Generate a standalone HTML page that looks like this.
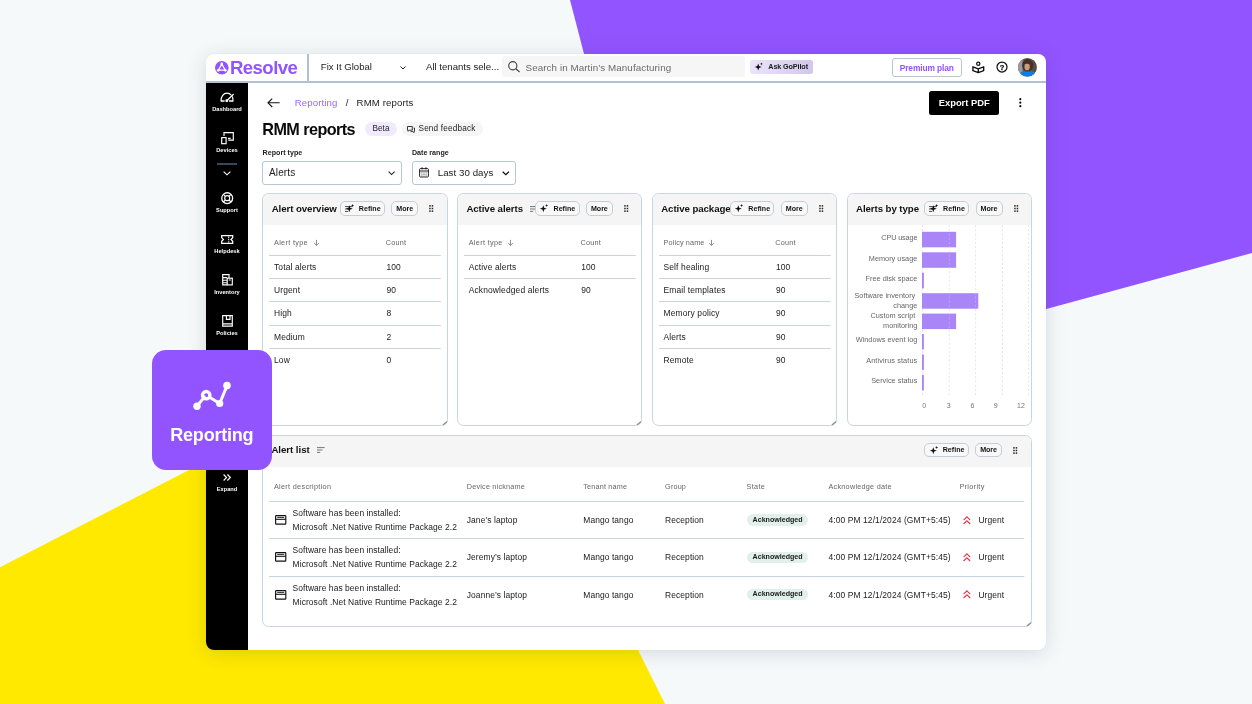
<!DOCTYPE html>
<html lang="en">
<head>
<meta charset="utf-8">
<title>RMM reports</title>
<style>
*{box-sizing:border-box;margin:0;padding:0}
html,body{width:1252px;height:704px;overflow:hidden}
body{position:relative;background:#f5f9fa;font-family:"Liberation Sans",Arial,sans-serif;color:#111;-webkit-font-smoothing:antialiased}
.abs{position:absolute}
.t{position:absolute;white-space:nowrap;line-height:1}
#bg{position:absolute;left:0;top:0;width:1252px;height:704px}
#app{will-change:transform;position:absolute;left:206px;top:54px;width:840px;height:596px;background:#fff;border-radius:8px;box-shadow:0 3px 20px rgba(40,50,70,.15),0 0 2px rgba(40,50,70,.05);overflow:hidden}
/* everything inside #app is positioned in page coords via this wrapper */
#in{position:absolute;left:-206px;top:-54px;width:1252px;height:704px}
#topline{left:206px;top:80.5px;width:840px;height:2px;background:#b3c1ce}
#vdiv{left:307px;top:54px;width:1.5px;height:28px;background:#b3c1ce}
#side{left:206px;top:82.5px;width:42px;height:568px;background:#000}
.sl{position:absolute;left:206px;width:42px;text-align:center;color:#fff;font-weight:bold;font-size:5.7px;line-height:1;margin-top:1.2px;white-space:nowrap}
.ico{position:absolute;overflow:visible}
.card{border:1px solid #c8d4df;border-radius:6.5px;background:#fff;overflow:hidden}
.chead{background:#f5f5f5;width:100%}
.grip{position:absolute;right:1px;bottom:1px;width:6px;height:6px;background:linear-gradient(135deg,transparent 52%,#8a8f96 52%,#8a8f96 64%,transparent 64%,transparent 76%,#8a8f96 76%,#8a8f96 88%,transparent 88%)}
.btn{border:1px solid #c3ced9;border-radius:5px;background:#f8f8f8}
.hl{height:1px;background:#c9d5df}

</style>
</head>
<body>
<svg id="bg" viewBox="0 0 1252 704">
  <polygon points="570,0 1252,0 1252,253 676.5,409.5" fill="#9254ff"/>
  <polygon points="0,567.3 474.4,323 665,704 0,704" fill="#ffe900"/>
</svg>

<div id="app"><div id="in">
  <!-- TOPBAR -->

  <!-- logo -->
  <svg class="ico" style="left:215.3px;top:60.5px" width="13.6" height="13.6" viewBox="0 0 13.6 13.6"><circle cx="6.8" cy="6.8" r="6.8" fill="#9254ff"/><path d="M6.8 3 L3.3 9.2 L10.3 9.2 Z" fill="none" stroke="#fff" stroke-width="1.3" stroke-linejoin="round"/><circle cx="6.8" cy="2.9" r="1.35" fill="#fff"/><circle cx="3.2" cy="9.3" r="1.35" fill="#fff"/><circle cx="10.4" cy="9.3" r="1.35" fill="#fff"/></svg>
  <div class="t" id="logo" style="left:229.9px;top:58.6px;font-size:18.6px;font-weight:bold;color:#9254ff;letter-spacing:-.55px">Resolve</div>
  <div class="t" id="fix" style="left:320.8px;top:62.3px;font-size:9.6px;color:#1a1a1a">Fix It Global</div>
  <svg class="ico" style="left:399.5px;top:65.5px" width="6" height="4" viewBox="0 0 6 4"><path d="M.5 .5 L3 3 L5.5 .5" fill="none" stroke="#222" stroke-width="1"/></svg>
  <div class="t" id="ten" style="left:426px;top:62.3px;font-size:9.6px;color:#1a1a1a">All tenants sele...</div>
  <div class="abs" style="left:502.2px;top:56.3px;width:243px;height:20.8px;background:#f6f6f6;border-radius:3.5px"></div>
  <svg class="ico" style="left:507.8px;top:61.2px" width="12" height="11.4" viewBox="0 0 12 11.4"><circle cx="4.8" cy="4.8" r="4.1" fill="none" stroke="#444" stroke-width="1.15"/><path d="M7.8 7.8 L11.6 11" stroke="#444" stroke-width="1.15" fill="none"/></svg>
  <div class="t" id="srch" style="left:525.6px;top:62.8px;font-size:9.8px;letter-spacing:.08px;color:#6a6a6a">Search in Martin’s Manufacturing</div>
  <div class="abs" style="left:750px;top:60px;width:63px;height:14.2px;border-radius:2.5px;background:linear-gradient(90deg,#ebe4fb,#d2c7ec)"></div>
  <svg class="ico" style="left:755px;top:62.1px" width="8" height="9" viewBox="0 0 8 9"><path d="M3.2 1.6 L4.1 4.1 L6.6 5 L4.1 5.9 L3.2 8.4 L2.3 5.9 L-.2 5 L2.3 4.1 Z" fill="#111"/><path d="M6.4 .4 L6.8 1.5 L7.9 1.9 L6.8 2.3 L6.4 3.4 L6 2.3 L4.9 1.9 L6 1.5 Z" fill="#111"/></svg>
  <div class="t" id="ask" style="left:768.3px;top:63.4px;font-size:7.2px;letter-spacing:-.1px;font-weight:bold;color:#1a1a1a">Ask GoPilot</div>
  <div class="abs" style="left:892.3px;top:58.3px;width:69.5px;height:18.4px;border:1px solid #b9c7d4;border-radius:3px"></div>
  <div class="t" id="prem" style="left:899.7px;top:63.7px;font-size:8.4px;letter-spacing:-.1px;font-weight:bold;color:#9254ff">Premium plan</div>
  <!-- reader icon -->
  <svg class="ico" style="left:972px;top:61px" width="12.6" height="12.4" viewBox="0 0 12.6 12.4"><circle cx="6.3" cy="2.75" r="1.6" fill="none" stroke="#111" stroke-width="1.25"/><path d="M6.3 7.9 L.9 5.8 L.9 9.6 L6.3 11.6 L11.7 9.6 L11.7 5.8 Z M6.3 7.9 L6.3 11.6" fill="none" stroke="#111" stroke-width="1.35" stroke-linejoin="round"/></svg>
  <!-- help icon -->
  <svg class="ico" style="left:995.6px;top:61.1px" width="12" height="12" viewBox="0 0 12 12"><circle cx="6" cy="6" r="5" fill="none" stroke="#111" stroke-width="1.25"/><text x="6" y="8.75" text-anchor="middle" font-family="Liberation Sans, sans-serif" font-weight="bold" font-size="7.6" fill="#111" stroke="#111" stroke-width=".25">?</text></svg>
  <!-- avatar -->
  <svg class="ico" style="left:1017.9px;top:57.9px" width="18.8" height="18.8" viewBox="0 0 19 19"><defs><clipPath id="av"><circle cx="9.5" cy="9.5" r="9.5"/></clipPath></defs><g clip-path="url(#av)"><rect width="19" height="19" fill="#6d574c"/><rect x="0" y="0" width="4.6" height="19" fill="#9b9aa2"/><rect x="14" y="2" width="5" height="12" fill="#5d4a42"/><ellipse cx="9.8" cy="7.4" rx="5.6" ry="6.6" fill="#46312a"/><ellipse cx="9.2" cy="8.8" rx="2.7" ry="3.7" fill="#c79c80"/><path d="M5.8 6.5 C6.5 3.5 11.5 3.2 12.6 7 C11 5.6 8 5.4 5.8 6.5 Z" fill="#46312a"/><path d="M2.4 19 L2.8 14.2 C5 13.2 7 13.6 9.4 13.9 C12 13.4 14.5 13 16.6 14 L17 19 Z" fill="#0b7fe3"/></g></svg>
  <div class="abs" id="topline"></div>
  <div class="abs" id="vdiv"></div>
  <!-- SIDEBAR -->
  <div class="abs" id="side"></div>

  <!-- dashboard gauge -->
  <svg class="ico" style="left:220.2px;top:91.6px" width="14" height="10.4" viewBox="0 0 14 10.4"><path d="M1 8.9 C1 4.4 3.5 1.1 7 1.1 C8.6 1.1 10 1.7 11 2.8 M12.5 4.9 C12.85 6.1 13 7.4 13 8.9" stroke="#fff" fill="none" stroke-width="1.2" stroke-linecap="round"/><path d="M1 9 H4.6 M9 9 H13" stroke="#fff" fill="none" stroke-width="1.5"/><path d="M6.8 8.8 L13.2 2.5" stroke="#fff" fill="none" stroke-width="1.25" stroke-linecap="round"/><circle cx="6.8" cy="8.8" r="1.45" fill="#fff"/></svg>
  <!-- devices -->
  <svg class="ico" style="left:220.8px;top:131.8px" width="13" height="12.4" viewBox="0 0 13 12.4"><path d="M3 4 L3 .7 L12.3 .7 L12.3 8.2 L7.2 8.2" stroke="#fff" fill="none" stroke-width="1.15"/><rect x=".7" y="5.6" width="4.4" height="6.1" stroke="#fff" fill="none" stroke-width="1.15"/><path d="M7 6.4 L9.6 6.4" stroke="#fff" fill="none" stroke-width="1.15"/></svg>
  <div class="abs" style="left:217.4px;top:163px;width:19.2px;height:1.6px;background:#34495a"></div>
  <svg class="ico" style="left:223.2px;top:170.6px" width="8" height="4.6" viewBox="0 0 8 4.6"><path d="M.6 .6 L4 3.8 L7.4 .6" stroke="#fff" fill="none" stroke-width="1.15"/></svg>
  <!-- support -->
  <svg class="ico" style="left:220.8px;top:192.2px" width="12.4" height="12.4" viewBox="0 0 12.4 12.4"><circle cx="6.2" cy="6.2" r="5.45" stroke="#fff" fill="none" stroke-width="1.3"/><circle cx="6.2" cy="6.2" r="2.5" stroke="#fff" fill="none" stroke-width="1.2"/><path d="M2.4 2.4 L4.4 4.4 M10 2.4 L8 4.4 M2.4 10 L4.4 8 M10 10 L8 8" stroke="#fff" fill="none" stroke-width="1.2"/></svg>
  <!-- helpdesk -->
  <svg class="ico" style="left:220.8px;top:235px" width="12.4" height="9" viewBox="0 0 12.4 9"><path d="M.7 .7 H11.7 V2.7 L10 4.5 L11.7 6.3 V8.3 H.7 V6.3 L2.4 4.5 L.7 2.7 Z" stroke="#fff" fill="none" stroke-width="1.25" stroke-linejoin="miter"/><path d="M7.7 1.4 L7.7 7.6" stroke="#fff" fill="none" stroke-width="1.1" stroke-dasharray="1.5 .9"/></svg>
  <!-- inventory -->
  <svg class="ico" style="left:221.6px;top:274.4px" width="11" height="11.6" viewBox="0 0 11 11.6"><path d="M5.2 10.9 L.7 10.9 L.7 .7 L7 .7 L7 4" stroke="#fff" fill="none" stroke-width="1.15"/><rect x="5.2" y="4.2" width="5.1" height="6.7" stroke="#fff" fill="none" stroke-width="1.15"/><path d="M.7 3.6 L5 3.6 M.7 6.3 L5 6.3 M.7 8.8 L5 8.8 M6.8 6 L8.8 6" stroke="#fff" fill="none" stroke-width="1.15" stroke-width=".8"/></svg>
  <!-- policies -->
  <svg class="ico" style="left:221.6px;top:315.4px" width="11" height="11.8" viewBox="0 0 11 11.8"><path d="M.7 .7 L10.3 .7 L10.3 11.1 L.7 11.1 Z M.7 8.9 L10.3 8.9" stroke="#fff" fill="none" stroke-width="1.15"/><path d="M4.4 .7 L4.4 4.4 L8 4.4 L8 .7" stroke="#fff" fill="none" stroke-width="1.15" stroke-width="1"/></svg>
  <!-- expand -->
  <svg class="ico" style="left:222.8px;top:473.6px" width="8.2" height="7" viewBox="0 0 8.2 7"><path d="M.6 .5 L3.6 3.5 L.6 6.5 M4.4 .5 L7.4 3.5 L4.4 6.5" stroke="#fff" fill="none" stroke-width="1.15" stroke-width="1.2"/></svg>
  <div class="sl" style="top:105.4px">Dashboard</div>
  <div class="sl" style="top:146.6px">Devices</div>
  <div class="sl" style="top:206.8px">Support</div>
  <div class="sl" style="top:247.8px">Helpdesk</div>
  <div class="sl" style="top:288.8px">Inventory</div>
  <div class="sl" style="top:329.9px">Policies</div>
  <div class="sl" style="top:485.5px">Expand</div>
  <!-- CONTENT -->

  <svg class="ico" style="left:267.3px;top:97.8px" width="13" height="9.6" viewBox="0 0 13 9.6"><path d="M12.6 4.8 L1 4.8 M5.2 .6 L1 4.8 L5.2 9" fill="none" stroke="#111" stroke-width="1.1"/></svg>
  <div class="t" id="bc1" style="left:294.7px;top:97.9px;font-size:9.6px;letter-spacing:.13px;color:#9a66ff">Reporting</div>
  <div class="t" id="bc2" style="left:345.8px;top:97.9px;font-size:9.6px;color:#222">/</div>
  <div class="t" id="bc3" style="left:356.6px;top:97.9px;font-size:9.6px;letter-spacing:.13px;color:#222">RMM reports</div>
  <div class="abs" style="left:928.7px;top:91.1px;width:70.5px;height:23.7px;background:#000;border-radius:2.5px"></div>
  <div class="t" id="exp" style="left:938.7px;top:98px;font-size:9.4px;font-weight:bold;color:#fff">Export PDF</div>
  <svg class="ico" style="left:1019px;top:98.4px" width="2.6" height="9.4" viewBox="0 0 2.6 9.4"><circle cx="1.3" cy="1.2" r="1.1" fill="#111"/><circle cx="1.3" cy="4.7" r="1.1" fill="#111"/><circle cx="1.3" cy="8.2" r="1.1" fill="#111"/></svg>
  <div class="t" id="ttl" style="left:262.3px;top:120.6px;font-size:16.2px;font-weight:bold;color:#0a0a0a;letter-spacing:-.56px">RMM reports</div>
  <div class="abs" style="left:365.2px;top:122px;width:32px;height:14px;border-radius:7px;background:#efeafd"></div>
  <div class="t" id="beta" style="left:372.5px;top:125.2px;font-size:8.2px;letter-spacing:.05px;color:#222">Beta</div>
  <div class="abs" style="left:402px;top:122px;width:81.2px;height:14px;border-radius:7px;background:#f5f5f5"></div>
  <svg class="ico" style="left:407.3px;top:125.6px" width="8" height="7" viewBox="0 0 8 7"><path d="M.5 .5 L5.3 .5 L5.3 4.2 L2.2 4.2 L1.2 5.3 L1.2 4.2 L.5 4.2 Z" fill="none" stroke="#222" stroke-width=".9" stroke-linejoin="round"/><path d="M6.6 2 L7.5 2 L7.5 5.6 L6.8 5.6 L6.8 6.6 L5.8 5.6 L3.6 5.6" fill="none" stroke="#222" stroke-width=".9" stroke-linejoin="round"/></svg>
  <div class="t" id="sf" style="left:418.5px;top:125.2px;font-size:8.2px;letter-spacing:.18px;color:#222">Send feedback</div>
  <div class="t" id="rt" style="left:262.5px;top:149.5px;font-size:7.1px;letter-spacing:.04px;font-weight:bold;color:#222">Report type</div>
  <div class="abs" style="left:262px;top:161px;width:140px;height:24px;border:1px solid #b7c7d6;border-radius:3px;background:#fff"></div>
  <div class="t" id="al" style="left:269px;top:167.7px;font-size:10px;letter-spacing:.14px;color:#222">Alerts</div>
  <svg class="ico" style="left:387.8px;top:170.8px" width="7.2" height="4.4" viewBox="0 0 7.2 4.4"><path d="M.6 .6 L3.6 3.6 L6.6 .6" fill="none" stroke="#222" stroke-width="1.1"/></svg>
  <div class="t" id="dr" style="left:412px;top:149.5px;font-size:7.1px;font-weight:bold;color:#222">Date range</div>
  <div class="abs" style="left:411.5px;top:161px;width:104.6px;height:24px;border:1px solid #b7c7d6;border-radius:3px;background:#fff"></div>
  <svg class="ico" style="left:419.2px;top:167.2px" width="10" height="10.6" viewBox="0 0 10 10.6"><rect x=".6" y="1.6" width="8.8" height="8.4" rx=".8" fill="none" stroke="#222" stroke-width="1"/><path d="M.6 4 L9.4 4 M3 .2 L3 2.4 M7 .2 L7 2.4" stroke="#222" stroke-width="1" fill="none"/><path d="M2.4 5.9 h1 M4.5 5.9 h1 M6.6 5.9 h1 M2.4 7.9 h1 M4.5 7.9 h1 M6.6 7.9 h1" stroke="#222" stroke-width=".9"/></svg>
  <div class="t" id="l30" style="left:437.7px;top:167.8px;font-size:9.7px;letter-spacing:.06px;color:#222">Last 30 days</div>
  <svg class="ico" style="left:501.6px;top:170.8px" width="7.6" height="4.6" viewBox="0 0 7.6 4.6"><path d="M.7 .7 L3.8 3.7 L6.9 .7" fill="none" stroke="#111" stroke-width="1.3"/></svg>
  <!-- CARDS START -->
  <div class="abs card" style="left:262.4px;top:193.3px;width:185.3px;height:232.4px"><div class="chead" style="height:31px"></div></div>
  <svg class="ico" style="left:440.7px;top:419.1px" width="7" height="7" viewBox="0 0 7 7"><path d="M2.5 5.5 L5.7 3" stroke="#8d9196" stroke-width="1.5" stroke-linecap="round"/></svg>
  <div class="t" id="t1" style="left:271.7px;top:203.9px;font-size:9.7px;font-weight:bold;color:#111;letter-spacing:-.08px;max-width:68.9px;overflow:hidden">Alert overview</div>
  <div class="abs btn" style="left:340.1px;top:201.4px;width:44.8px;height:14.2px"></div>
  <svg class="ico" style="left:344.5px;top:205.9px" width="8" height="6" viewBox="0 0 8 6"><path d="M0 .6 H7.6 M0 3 H5.4 M0 5.4 H3.2" stroke="#333" stroke-width=".9" fill="none"/></svg>
  <svg class="ico" style="left:345.7px;top:204.2px" width="8.2" height="8.4" viewBox="0 0 8.2 8.4"><path d="M3.3 1.2 L4.2 3.8 L6.8 4.7 L4.2 5.6 L3.3 8.2 L2.4 5.6 L-.2 4.7 L2.4 3.8 Z" fill="#111"/><path d="M6.6 0 L7 1.1 L8.1 1.5 L7 1.9 L6.6 3 L6.2 1.9 L5.1 1.5 L6.2 1.1 Z" fill="#111"/></svg>
  <div class="t" id="refine" style="top:206.06px;font-size:7.1px;color:#111;left:358.80px;font-weight:bold;letter-spacing:0.02px;">Refine</div>
  <div class="abs btn" style="left:391.3px;top:201.4px;width:27px;height:14.2px"></div>
  <div class="t" id="more" style="top:206.06px;font-size:7.1px;color:#111;left:396.30px;font-weight:bold;letter-spacing:-0.05px;">More</div>
  <svg class="ico" style="left:429.2px;top:205.3px" width="4.4" height="7" viewBox="0 0 4.4 7"><rect x="0.2" y="0.1" width="1.5" height="1.5" fill="#222"/><rect x="0.2" y="2.75" width="1.5" height="1.5" fill="#222"/><rect x="0.2" y="5.4" width="1.5" height="1.5" fill="#222"/><rect x="2.7" y="0.1" width="1.5" height="1.5" fill="#222"/><rect x="2.7" y="2.75" width="1.5" height="1.5" fill="#222"/><rect x="2.7" y="5.4" width="1.5" height="1.5" fill="#222"/></svg>
  <div class="t" id="ch" style="top:239.28px;font-size:7.25px;color:#666;left:274.00px;letter-spacing:0.33px;">Alert type</div>
  <svg class="ico" style="left:313.6px;top:240.4px" width="5" height="5.6" viewBox="0 0 5 5.6"><path d="M2.5 -.1 L2.5 5.3 M.2 3.1 L2.5 5.4 L4.8 3.1" fill="none" stroke="#666" stroke-width=".75"/></svg>
  <div class="t" id="ch" style="top:239.28px;font-size:7.25px;color:#666;left:385.80px;letter-spacing:0.22px;">Count</div>
  <svg class="ico" style="left:269.0px;top:254px" width="171.8" height="3" viewBox="0 0 171.8 3"><path d="M0 1.5 H171.8" stroke="#c9d4de" stroke-width="1"/></svg>
  <div class="t" style="top:262.61px;font-size:8.45px;color:#1a1a1a;left:274.00px;letter-spacing:0.14px;">Total alerts</div>
  <div class="t" style="top:262.61px;font-size:8.45px;color:#1a1a1a;left:386.50px;letter-spacing:0.06px;">100</div>
  <svg class="ico" style="left:269.0px;top:277px" width="171.8" height="3" viewBox="0 0 171.8 3"><path d="M0 1.5 H171.8" stroke="#c9d4de" stroke-width="1"/></svg>
  <div class="t" style="top:285.96px;font-size:8.45px;color:#1a1a1a;left:274.00px;letter-spacing:0.14px;">Urgent</div>
  <div class="t" style="top:285.96px;font-size:8.45px;color:#1a1a1a;left:386.50px;letter-spacing:0.06px;">90</div>
  <svg class="ico" style="left:269.0px;top:300px" width="171.8" height="3" viewBox="0 0 171.8 3"><path d="M0 1.5 H171.8" stroke="#c9d4de" stroke-width="1"/></svg>
  <div class="t" style="top:309.31px;font-size:8.45px;color:#1a1a1a;left:274.00px;letter-spacing:0.14px;">High</div>
  <div class="t" style="top:309.31px;font-size:8.45px;color:#1a1a1a;left:386.50px;letter-spacing:0.06px;">8</div>
  <svg class="ico" style="left:269.0px;top:324px" width="171.8" height="3" viewBox="0 0 171.8 3"><path d="M0 1.5 H171.8" stroke="#c9d4de" stroke-width="1"/></svg>
  <div class="t" style="top:332.66px;font-size:8.45px;color:#1a1a1a;left:274.00px;letter-spacing:0.14px;">Medium</div>
  <div class="t" style="top:332.66px;font-size:8.45px;color:#1a1a1a;left:386.50px;letter-spacing:0.06px;">2</div>
  <svg class="ico" style="left:269.0px;top:347px" width="171.8" height="3" viewBox="0 0 171.8 3"><path d="M0 1.5 H171.8" stroke="#c9d4de" stroke-width="1"/></svg>
  <div class="t" style="top:356.01px;font-size:8.45px;color:#1a1a1a;left:274.00px;letter-spacing:0.14px;">Low</div>
  <div class="t" style="top:356.01px;font-size:8.45px;color:#1a1a1a;left:386.50px;letter-spacing:0.06px;">0</div>
  <div class="abs card" style="left:457.1px;top:193.3px;width:185.3px;height:232.4px"><div class="chead" style="height:31px"></div></div>
  <svg class="ico" style="left:635.4px;top:419.1px" width="7" height="7" viewBox="0 0 7 7"><path d="M2.5 5.5 L5.7 3" stroke="#8d9196" stroke-width="1.5" stroke-linecap="round"/></svg>
  <div class="t" id="t2" style="left:466.4px;top:203.9px;font-size:9.7px;font-weight:bold;color:#111;letter-spacing:-.08px;max-width:68.9px;overflow:hidden">Active alerts</div>
  <svg class="ico" style="left:529.9px;top:205.9px" width="8" height="6" viewBox="0 0 8 6"><path d="M0 .6 H7.6 M0 3 H5.4 M0 5.4 H3.2" stroke="#666" stroke-width=".9" fill="none"/></svg>
  <div class="abs btn" style="left:534.8px;top:201.4px;width:44.8px;height:14.2px"></div>
  <svg class="ico" style="left:540.4px;top:204.2px" width="8.2" height="8.4" viewBox="0 0 8.2 8.4"><path d="M3.3 1.2 L4.2 3.8 L6.8 4.7 L4.2 5.6 L3.3 8.2 L2.4 5.6 L-.2 4.7 L2.4 3.8 Z" fill="#111"/><path d="M6.6 0 L7 1.1 L8.1 1.5 L7 1.9 L6.6 3 L6.2 1.9 L5.1 1.5 L6.2 1.1 Z" fill="#111"/></svg>
  <div class="t" id="refine" style="top:206.06px;font-size:7.1px;color:#111;left:553.50px;font-weight:bold;letter-spacing:0.02px;">Refine</div>
  <div class="abs btn" style="left:586.0px;top:201.4px;width:27px;height:14.2px"></div>
  <div class="t" id="more" style="top:206.06px;font-size:7.1px;color:#111;left:591.00px;font-weight:bold;letter-spacing:-0.05px;">More</div>
  <svg class="ico" style="left:623.9px;top:205.3px" width="4.4" height="7" viewBox="0 0 4.4 7"><rect x="0.2" y="0.1" width="1.5" height="1.5" fill="#222"/><rect x="0.2" y="2.75" width="1.5" height="1.5" fill="#222"/><rect x="0.2" y="5.4" width="1.5" height="1.5" fill="#222"/><rect x="2.7" y="0.1" width="1.5" height="1.5" fill="#222"/><rect x="2.7" y="2.75" width="1.5" height="1.5" fill="#222"/><rect x="2.7" y="5.4" width="1.5" height="1.5" fill="#222"/></svg>
  <div class="t" id="ch" style="top:239.28px;font-size:7.25px;color:#666;left:468.70px;letter-spacing:0.33px;">Alert type</div>
  <svg class="ico" style="left:508.3px;top:240.4px" width="5" height="5.6" viewBox="0 0 5 5.6"><path d="M2.5 -.1 L2.5 5.3 M.2 3.1 L2.5 5.4 L4.8 3.1" fill="none" stroke="#666" stroke-width=".75"/></svg>
  <div class="t" id="ch" style="top:239.28px;font-size:7.25px;color:#666;left:580.50px;letter-spacing:0.22px;">Count</div>
  <svg class="ico" style="left:463.7px;top:254px" width="171.8" height="3" viewBox="0 0 171.8 3"><path d="M0 1.5 H171.8" stroke="#c9d4de" stroke-width="1"/></svg>
  <div class="t" style="top:262.61px;font-size:8.45px;color:#1a1a1a;left:468.70px;letter-spacing:0.14px;">Active alerts</div>
  <div class="t" style="top:262.61px;font-size:8.45px;color:#1a1a1a;left:581.20px;letter-spacing:0.06px;">100</div>
  <svg class="ico" style="left:463.7px;top:277px" width="171.8" height="3" viewBox="0 0 171.8 3"><path d="M0 1.5 H171.8" stroke="#c9d4de" stroke-width="1"/></svg>
  <div class="t" style="top:285.96px;font-size:8.45px;color:#1a1a1a;left:468.70px;letter-spacing:0.14px;">Acknowledged alerts</div>
  <div class="t" style="top:285.96px;font-size:8.45px;color:#1a1a1a;left:581.20px;letter-spacing:0.06px;">90</div>
  <div class="abs card" style="left:651.9px;top:193.3px;width:185.3px;height:232.4px"><div class="chead" style="height:31px"></div></div>
  <svg class="ico" style="left:830.2px;top:419.1px" width="7" height="7" viewBox="0 0 7 7"><path d="M2.5 5.5 L5.7 3" stroke="#8d9196" stroke-width="1.5" stroke-linecap="round"/></svg>
  <div class="t" id="t3" style="left:661.2px;top:203.9px;font-size:9.7px;font-weight:bold;color:#111;letter-spacing:-.08px;max-width:68.9px;overflow:hidden">Active packages</div>
  <div class="abs btn" style="left:729.6px;top:201.4px;width:44.8px;height:14.2px"></div>
  <svg class="ico" style="left:735.2px;top:204.2px" width="8.2" height="8.4" viewBox="0 0 8.2 8.4"><path d="M3.3 1.2 L4.2 3.8 L6.8 4.7 L4.2 5.6 L3.3 8.2 L2.4 5.6 L-.2 4.7 L2.4 3.8 Z" fill="#111"/><path d="M6.6 0 L7 1.1 L8.1 1.5 L7 1.9 L6.6 3 L6.2 1.9 L5.1 1.5 L6.2 1.1 Z" fill="#111"/></svg>
  <div class="t" id="refine" style="top:206.06px;font-size:7.1px;color:#111;left:748.30px;font-weight:bold;letter-spacing:0.02px;">Refine</div>
  <div class="abs btn" style="left:780.8px;top:201.4px;width:27px;height:14.2px"></div>
  <div class="t" id="more" style="top:206.06px;font-size:7.1px;color:#111;left:785.80px;font-weight:bold;letter-spacing:-0.05px;">More</div>
  <svg class="ico" style="left:818.7px;top:205.3px" width="4.4" height="7" viewBox="0 0 4.4 7"><rect x="0.2" y="0.1" width="1.5" height="1.5" fill="#222"/><rect x="0.2" y="2.75" width="1.5" height="1.5" fill="#222"/><rect x="0.2" y="5.4" width="1.5" height="1.5" fill="#222"/><rect x="2.7" y="0.1" width="1.5" height="1.5" fill="#222"/><rect x="2.7" y="2.75" width="1.5" height="1.5" fill="#222"/><rect x="2.7" y="5.4" width="1.5" height="1.5" fill="#222"/></svg>
  <div class="t" id="ch" style="top:239.28px;font-size:7.25px;color:#666;left:663.50px;letter-spacing:0.14px;">Policy name</div>
  <svg class="ico" style="left:709.1px;top:240.4px" width="5" height="5.6" viewBox="0 0 5 5.6"><path d="M2.5 -.1 L2.5 5.3 M.2 3.1 L2.5 5.4 L4.8 3.1" fill="none" stroke="#666" stroke-width=".75"/></svg>
  <div class="t" id="ch" style="top:239.28px;font-size:7.25px;color:#666;left:775.30px;letter-spacing:0.22px;">Count</div>
  <svg class="ico" style="left:658.5px;top:254px" width="171.8" height="3" viewBox="0 0 171.8 3"><path d="M0 1.5 H171.8" stroke="#c9d4de" stroke-width="1"/></svg>
  <div class="t" style="top:262.61px;font-size:8.45px;color:#1a1a1a;left:663.50px;letter-spacing:0.14px;">Self healing</div>
  <div class="t" style="top:262.61px;font-size:8.45px;color:#1a1a1a;left:776.00px;letter-spacing:0.06px;">100</div>
  <svg class="ico" style="left:658.5px;top:277px" width="171.8" height="3" viewBox="0 0 171.8 3"><path d="M0 1.5 H171.8" stroke="#c9d4de" stroke-width="1"/></svg>
  <div class="t" style="top:285.96px;font-size:8.45px;color:#1a1a1a;left:663.50px;letter-spacing:0.14px;">Email templates</div>
  <div class="t" style="top:285.96px;font-size:8.45px;color:#1a1a1a;left:776.00px;letter-spacing:0.06px;">90</div>
  <svg class="ico" style="left:658.5px;top:300px" width="171.8" height="3" viewBox="0 0 171.8 3"><path d="M0 1.5 H171.8" stroke="#c9d4de" stroke-width="1"/></svg>
  <div class="t" style="top:309.31px;font-size:8.45px;color:#1a1a1a;left:663.50px;letter-spacing:0.14px;">Memory policy</div>
  <div class="t" style="top:309.31px;font-size:8.45px;color:#1a1a1a;left:776.00px;letter-spacing:0.06px;">90</div>
  <svg class="ico" style="left:658.5px;top:324px" width="171.8" height="3" viewBox="0 0 171.8 3"><path d="M0 1.5 H171.8" stroke="#c9d4de" stroke-width="1"/></svg>
  <div class="t" style="top:332.66px;font-size:8.45px;color:#1a1a1a;left:663.50px;letter-spacing:0.14px;">Alerts</div>
  <div class="t" style="top:332.66px;font-size:8.45px;color:#1a1a1a;left:776.00px;letter-spacing:0.06px;">90</div>
  <svg class="ico" style="left:658.5px;top:347px" width="171.8" height="3" viewBox="0 0 171.8 3"><path d="M0 1.5 H171.8" stroke="#c9d4de" stroke-width="1"/></svg>
  <div class="t" style="top:356.01px;font-size:8.45px;color:#1a1a1a;left:663.50px;letter-spacing:0.14px;">Remote</div>
  <div class="t" style="top:356.01px;font-size:8.45px;color:#1a1a1a;left:776.00px;letter-spacing:0.06px;">90</div>
  <div class="abs card" style="left:846.7px;top:193.3px;width:185.3px;height:232.4px"><div class="chead" style="height:31px"></div></div>
  <div class="t" id="t4" style="left:856.0px;top:203.9px;font-size:9.7px;font-weight:bold;color:#111;letter-spacing:-.08px;max-width:68.9px;overflow:hidden">Alerts by type</div>
  <div class="abs btn" style="left:924.4px;top:201.4px;width:44.8px;height:14.2px"></div>
  <svg class="ico" style="left:928.8px;top:205.9px" width="8" height="6" viewBox="0 0 8 6"><path d="M0 .6 H7.6 M0 3 H5.4 M0 5.4 H3.2" stroke="#333" stroke-width=".9" fill="none"/></svg>
  <svg class="ico" style="left:930.0px;top:204.2px" width="8.2" height="8.4" viewBox="0 0 8.2 8.4"><path d="M3.3 1.2 L4.2 3.8 L6.8 4.7 L4.2 5.6 L3.3 8.2 L2.4 5.6 L-.2 4.7 L2.4 3.8 Z" fill="#111"/><path d="M6.6 0 L7 1.1 L8.1 1.5 L7 1.9 L6.6 3 L6.2 1.9 L5.1 1.5 L6.2 1.1 Z" fill="#111"/></svg>
  <div class="t" id="refine" style="top:206.06px;font-size:7.1px;color:#111;left:943.10px;font-weight:bold;letter-spacing:0.02px;">Refine</div>
  <div class="abs btn" style="left:975.6px;top:201.4px;width:27px;height:14.2px"></div>
  <div class="t" id="more" style="top:206.06px;font-size:7.1px;color:#111;left:980.60px;font-weight:bold;letter-spacing:-0.05px;">More</div>
  <svg class="ico" style="left:1013.5px;top:205.3px" width="4.4" height="7" viewBox="0 0 4.4 7"><rect x="0.2" y="0.1" width="1.5" height="1.5" fill="#222"/><rect x="0.2" y="2.75" width="1.5" height="1.5" fill="#222"/><rect x="0.2" y="5.4" width="1.5" height="1.5" fill="#222"/><rect x="2.7" y="0.1" width="1.5" height="1.5" fill="#222"/><rect x="2.7" y="2.75" width="1.5" height="1.5" fill="#222"/><rect x="2.7" y="5.4" width="1.5" height="1.5" fill="#222"/></svg>
  <svg class="ico" style="left:0;top:0" width="1252" height="704" viewBox="0 0 1252 704">
  <path d="M922.5 225 V395.5" stroke="#d5dde6" stroke-width=".8" stroke-dasharray="2.2 2" fill="none"/>
  <path d="M949.3 225 V395.5" stroke="#d5dde6" stroke-width=".8" stroke-dasharray="2.2 2" fill="none"/>
  <path d="M975.6 225 V395.5" stroke="#d5dde6" stroke-width=".8" stroke-dasharray="2.2 2" fill="none"/>
  <path d="M1002.4 225 V395.5" stroke="#d5dde6" stroke-width=".8" stroke-dasharray="2.2 2" fill="none"/>
  <path d="M1028.6 225 V395.5" stroke="#d5dde6" stroke-width=".8" stroke-dasharray="2.2 2" fill="none"/>
  <rect x="922" y="231.8" width="34.1" height="15.5" fill="#a985f8"/>
  <rect x="922" y="252.3" width="34.1" height="15.5" fill="#a985f8"/>
  <rect x="922" y="272.8" width="1.9" height="15.5" fill="#a985f8"/>
  <rect x="922" y="293.2" width="56.3" height="15.5" fill="#a985f8"/>
  <rect x="922" y="313.6" width="34.1" height="15.5" fill="#a985f8"/>
  <rect x="922" y="334" width="1.9" height="15.5" fill="#a985f8"/>
  <rect x="922" y="354.4" width="1.9" height="15.5" fill="#a985f8"/>
  <rect x="922" y="374.8" width="1.9" height="15.5" fill="#a985f8"/>
  <path d="M949.3 225 V395.5" stroke="#ffffff" stroke-opacity=".3" stroke-width=".8" stroke-dasharray="2.2 2" fill="none"/>
  <path d="M975.6 225 V395.5" stroke="#ffffff" stroke-opacity=".3" stroke-width=".8" stroke-dasharray="2.2 2" fill="none"/>
  </svg>
  <div class="t" id="cl" style="top:234.45px;font-size:7.3px;color:#666;right:334.70px;letter-spacing:-0.15px;">CPU usage</div>
  <div class="t" id="cl" style="top:254.75px;font-size:7.3px;color:#666;right:334.70px;letter-spacing:0.02px;">Memory usage</div>
  <div class="t" id="cl" style="top:275.35px;font-size:7.3px;color:#666;right:334.70px;letter-spacing:0.02px;">Free disk space</div>
  <div class="t" id="cl" style="top:291.75px;font-size:7.3px;color:#666;right:334.70px;letter-spacing:0.02px;">Software inventory&nbsp;</div>
  <div class="t" id="cl" style="top:301.75px;font-size:7.3px;color:#666;right:334.70px;letter-spacing:0.02px;">change</div>
  <div class="t" id="cl" style="top:312.15px;font-size:7.3px;color:#666;right:334.70px;letter-spacing:0.02px;">Custom script&nbsp;</div>
  <div class="t" id="cl" style="top:322.25px;font-size:7.3px;color:#666;right:334.70px;letter-spacing:0.02px;">monitoring</div>
  <div class="t" id="cl" style="top:336.25px;font-size:7.3px;color:#666;right:334.70px;letter-spacing:0.02px;">Windows event log</div>
  <div class="t" id="cl" style="top:356.75px;font-size:7.3px;color:#666;right:334.70px;letter-spacing:0.1px;">Antivirus status</div>
  <div class="t" id="cl" style="top:377.15px;font-size:7.3px;color:#666;right:334.70px;letter-spacing:0.02px;">Service status</div>
  <div class="t" style="left:914.1px;width:20px;text-align:center;top:401.62px;font-size:7px;color:#777">0</div>
  <div class="t" style="left:938.8px;width:20px;text-align:center;top:401.62px;font-size:7px;color:#777">3</div>
  <div class="t" style="left:962.5px;width:20px;text-align:center;top:401.62px;font-size:7px;color:#777">6</div>
  <div class="t" style="left:985.7px;width:20px;text-align:center;top:401.62px;font-size:7px;color:#777">9</div>
  <div class="t" style="left:1011.0px;width:20px;text-align:center;top:401.62px;font-size:7px;color:#777">12</div>
  <div class="abs card" style="left:262.4px;top:435px;width:769.2px;height:192px"><div class="chead" style="height:30.6px"></div></div>
  <svg class="ico" style="left:1024.6px;top:620.0px" width="7" height="7" viewBox="0 0 7 7"><path d="M2.5 5.5 L5.7 3" stroke="#8d9196" stroke-width="1.5" stroke-linecap="round"/></svg>
  <div class="t" id="t5" style="top:444.92px;font-size:9.7px;color:#111;left:271.40px;font-weight:bold;letter-spacing:-0.05px;">Alert list</div>
  <svg class="ico" style="left:316.6px;top:447.0px" width="8" height="6" viewBox="0 0 8 6"><path d="M0 .6 H7.6 M0 3 H5.4 M0 5.4 H3.2" stroke="#666" stroke-width=".9" fill="none"/></svg>
  <div class="abs btn" style="left:924.0px;top:442.8px;width:44.8px;height:14.2px"></div>
  <svg class="ico" style="left:929.6px;top:445.6px" width="8.2" height="8.4" viewBox="0 0 8.2 8.4"><path d="M3.3 1.2 L4.2 3.8 L6.8 4.7 L4.2 5.6 L3.3 8.2 L2.4 5.6 L-.2 4.7 L2.4 3.8 Z" fill="#111"/><path d="M6.6 0 L7 1.1 L8.1 1.5 L7 1.9 L6.6 3 L6.2 1.9 L5.1 1.5 L6.2 1.1 Z" fill="#111"/></svg>
  <div class="t" id="refine" style="top:447.46px;font-size:7.1px;color:#111;left:942.70px;font-weight:bold;letter-spacing:0.02px;">Refine</div>
  <div class="abs btn" style="left:975.2px;top:442.8px;width:27px;height:14.2px"></div>
  <div class="t" id="more" style="top:447.46px;font-size:7.1px;color:#111;left:980.20px;font-weight:bold;letter-spacing:-0.05px;">More</div>
  <svg class="ico" style="left:1013.1px;top:446.7px" width="4.4" height="7" viewBox="0 0 4.4 7"><rect x="0.2" y="0.1" width="1.5" height="1.5" fill="#222"/><rect x="0.2" y="2.75" width="1.5" height="1.5" fill="#222"/><rect x="0.2" y="5.4" width="1.5" height="1.5" fill="#222"/><rect x="2.7" y="0.1" width="1.5" height="1.5" fill="#222"/><rect x="2.7" y="2.75" width="1.5" height="1.5" fill="#222"/><rect x="2.7" y="5.4" width="1.5" height="1.5" fill="#222"/></svg>
  <div class="t" id="lh" style="top:482.78px;font-size:7.25px;color:#666;left:273.90px;letter-spacing:0.32px;">Alert description</div>
  <div class="t" id="lh" style="top:482.78px;font-size:7.25px;color:#666;left:466.80px;letter-spacing:0.2px;">Device nickname</div>
  <div class="t" id="lh" style="top:482.78px;font-size:7.25px;color:#666;left:583.30px;letter-spacing:0.18px;">Tenant name</div>
  <div class="t" id="lh" style="top:482.78px;font-size:7.25px;color:#666;left:665.10px;letter-spacing:0.16px;">Group</div>
  <div class="t" id="lh" style="top:482.78px;font-size:7.25px;color:#666;left:746.60px;letter-spacing:0.3px;">State</div>
  <div class="t" id="lh" style="top:482.78px;font-size:7.25px;color:#666;left:828.50px;letter-spacing:0.25px;">Acknowledge date</div>
  <div class="t" id="lh" style="top:482.78px;font-size:7.25px;color:#666;left:959.40px;letter-spacing:0.34px;">Priority</div>
  <svg class="ico" style="left:269.0px;top:500px" width="755.3" height="3" viewBox="0 0 755.3 3"><path d="M0 1.5 H755.3" stroke="#c9d4de" stroke-width="1"/></svg>
  <svg class="ico" style="left:275.4px;top:515.2px" width="11.4" height="9.8" viewBox="0 0 11.4 9.8"><rect x=".6" y=".6" width="10.2" height="8.6" rx=".6" fill="none" stroke="#111" stroke-width="1.15"/><path d="M.6 4.3 H10.8" stroke="#111" stroke-width="1.1"/><path d="M2.2 2.4 H9.2" stroke="#111" stroke-width=".9"/></svg>
  <div class="t" id="d1" style="top:509.11px;font-size:8.45px;color:#1a1a1a;left:292.60px;letter-spacing:0.07px;">Software has been installed:</div>
  <div class="t" id="d2" style="top:523.21px;font-size:8.45px;color:#1a1a1a;left:292.60px;letter-spacing:0.075px;">Microsoft .Net Native Runtime Package 2.2</div>
  <div class="t" id="nm" style="top:516.11px;font-size:8.45px;color:#1a1a1a;left:466.80px;letter-spacing:0.08px;">Jane’s laptop</div>
  <div class="t" id="mt" style="top:516.11px;font-size:8.45px;color:#1a1a1a;left:583.30px;letter-spacing:0.08px;">Mango tango</div>
  <div class="t" id="rc" style="top:516.11px;font-size:8.45px;color:#1a1a1a;left:665.10px;letter-spacing:0.08px;">Reception</div>
  <div class="abs" style="left:746.6px;top:514.4px;width:61.6px;height:11.4px;border-radius:6px;background:#e2f0eb"></div>
  <div class="t" id="ak" style="top:516.86px;font-size:7.1px;color:#1a1a1a;left:752.60px;font-weight:bold;">Acknowledged</div>
  <div class="t" id="dt" style="top:516.11px;font-size:8.45px;color:#1a1a1a;left:828.50px;letter-spacing:0.1px;">4:00 PM 12/1/2024 (GMT+5:45)</div>
  <svg class="ico" style="left:962.6px;top:515.7px" width="7.8" height="8.8" viewBox="0 0 7.8 8.8"><path d="M.6 4.1 L3.9 .9 L7.2 4.1 M.6 8 L3.9 4.8 L7.2 8" fill="none" stroke="#e0364a" stroke-width="1.15"/></svg>
  <div class="t" id="ug" style="top:516.11px;font-size:8.45px;color:#1a1a1a;left:978.40px;letter-spacing:0.08px;">Urgent</div>
  <svg class="ico" style="left:269.0px;top:537px" width="755.3" height="3" viewBox="0 0 755.3 3"><path d="M0 1.5 H755.3" stroke="#c9d4de" stroke-width="1"/></svg>
  <svg class="ico" style="left:275.4px;top:552.3px" width="11.4" height="9.8" viewBox="0 0 11.4 9.8"><rect x=".6" y=".6" width="10.2" height="8.6" rx=".6" fill="none" stroke="#111" stroke-width="1.15"/><path d="M.6 4.3 H10.8" stroke="#111" stroke-width="1.1"/><path d="M2.2 2.4 H9.2" stroke="#111" stroke-width=".9"/></svg>
  <div class="t" id="d1" style="top:546.21px;font-size:8.45px;color:#1a1a1a;left:292.60px;letter-spacing:0.07px;">Software has been installed:</div>
  <div class="t" id="d2" style="top:560.31px;font-size:8.45px;color:#1a1a1a;left:292.60px;letter-spacing:0.075px;">Microsoft .Net Native Runtime Package 2.2</div>
  <div class="t" id="nm" style="top:553.21px;font-size:8.45px;color:#1a1a1a;left:466.80px;letter-spacing:0.08px;">Jeremy’s laptop</div>
  <div class="t" id="mt" style="top:553.21px;font-size:8.45px;color:#1a1a1a;left:583.30px;letter-spacing:0.08px;">Mango tango</div>
  <div class="t" id="rc" style="top:553.21px;font-size:8.45px;color:#1a1a1a;left:665.10px;letter-spacing:0.08px;">Reception</div>
  <div class="abs" style="left:746.6px;top:551.5px;width:61.6px;height:11.4px;border-radius:6px;background:#e2f0eb"></div>
  <div class="t" id="ak" style="top:553.96px;font-size:7.1px;color:#1a1a1a;left:752.60px;font-weight:bold;">Acknowledged</div>
  <div class="t" id="dt" style="top:553.21px;font-size:8.45px;color:#1a1a1a;left:828.50px;letter-spacing:0.1px;">4:00 PM 12/1/2024 (GMT+5:45)</div>
  <svg class="ico" style="left:962.6px;top:552.8px" width="7.8" height="8.8" viewBox="0 0 7.8 8.8"><path d="M.6 4.1 L3.9 .9 L7.2 4.1 M.6 8 L3.9 4.8 L7.2 8" fill="none" stroke="#e0364a" stroke-width="1.15"/></svg>
  <div class="t" id="ug" style="top:553.21px;font-size:8.45px;color:#1a1a1a;left:978.40px;letter-spacing:0.08px;">Urgent</div>
  <svg class="ico" style="left:269.0px;top:575px" width="755.3" height="3" viewBox="0 0 755.3 3"><path d="M0 1.5 H755.3" stroke="#c9d4de" stroke-width="1"/></svg>
  <svg class="ico" style="left:275.4px;top:589.7px" width="11.4" height="9.8" viewBox="0 0 11.4 9.8"><rect x=".6" y=".6" width="10.2" height="8.6" rx=".6" fill="none" stroke="#111" stroke-width="1.15"/><path d="M.6 4.3 H10.8" stroke="#111" stroke-width="1.1"/><path d="M2.2 2.4 H9.2" stroke="#111" stroke-width=".9"/></svg>
  <div class="t" id="d1" style="top:583.61px;font-size:8.45px;color:#1a1a1a;left:292.60px;letter-spacing:0.07px;">Software has been installed:</div>
  <div class="t" id="d2" style="top:597.71px;font-size:8.45px;color:#1a1a1a;left:292.60px;letter-spacing:0.075px;">Microsoft .Net Native Runtime Package 2.2</div>
  <div class="t" id="nm" style="top:590.61px;font-size:8.45px;color:#1a1a1a;left:466.80px;letter-spacing:0.08px;">Joanne’s laptop</div>
  <div class="t" id="mt" style="top:590.61px;font-size:8.45px;color:#1a1a1a;left:583.30px;letter-spacing:0.08px;">Mango tango</div>
  <div class="t" id="rc" style="top:590.61px;font-size:8.45px;color:#1a1a1a;left:665.10px;letter-spacing:0.08px;">Reception</div>
  <div class="abs" style="left:746.6px;top:588.9px;width:61.6px;height:11.4px;border-radius:6px;background:#e2f0eb"></div>
  <div class="t" id="ak" style="top:591.36px;font-size:7.1px;color:#1a1a1a;left:752.60px;font-weight:bold;">Acknowledged</div>
  <div class="t" id="dt" style="top:590.61px;font-size:8.45px;color:#1a1a1a;left:828.50px;letter-spacing:0.1px;">4:00 PM 12/1/2024 (GMT+5:45)</div>
  <svg class="ico" style="left:962.6px;top:590.2px" width="7.8" height="8.8" viewBox="0 0 7.8 8.8"><path d="M.6 4.1 L3.9 .9 L7.2 4.1 M.6 8 L3.9 4.8 L7.2 8" fill="none" stroke="#e0364a" stroke-width="1.15"/></svg>
  <div class="t" id="ug" style="top:590.61px;font-size:8.45px;color:#1a1a1a;left:978.40px;letter-spacing:0.08px;">Urgent</div>
  <!-- CARDS END -->
</div></div>

<!-- REPORTING TILE -->
<div class="abs" id="tile" style="will-change:transform;left:152px;top:350px;width:120px;height:120px;border-radius:14px;background:#9254ff">
  <svg class="ico" style="left:0;top:0" width="120" height="120" viewBox="0 0 120 120"><path d="M45 56.2 L52.4 47 M57.6 47.2 L67.7 53.5 L75 35.6" fill="none" stroke="#fff" stroke-width="2.9" stroke-linecap="round"/><circle cx="45" cy="56.2" r="3.7" fill="#fff"/><circle cx="54.2" cy="45.2" r="3.7" fill="none" stroke="#fff" stroke-width="3.4"/><circle cx="67.7" cy="53.5" r="3.6" fill="#fff"/><circle cx="75" cy="35.6" r="3.8" fill="#fff"/></svg>
  <div class="t" id="rep" style="left:18.3px;top:75.6px;font-size:18.1px;font-weight:bold;color:#fff;letter-spacing:-.28px">Reporting</div>
</div>
</body>
</html>
